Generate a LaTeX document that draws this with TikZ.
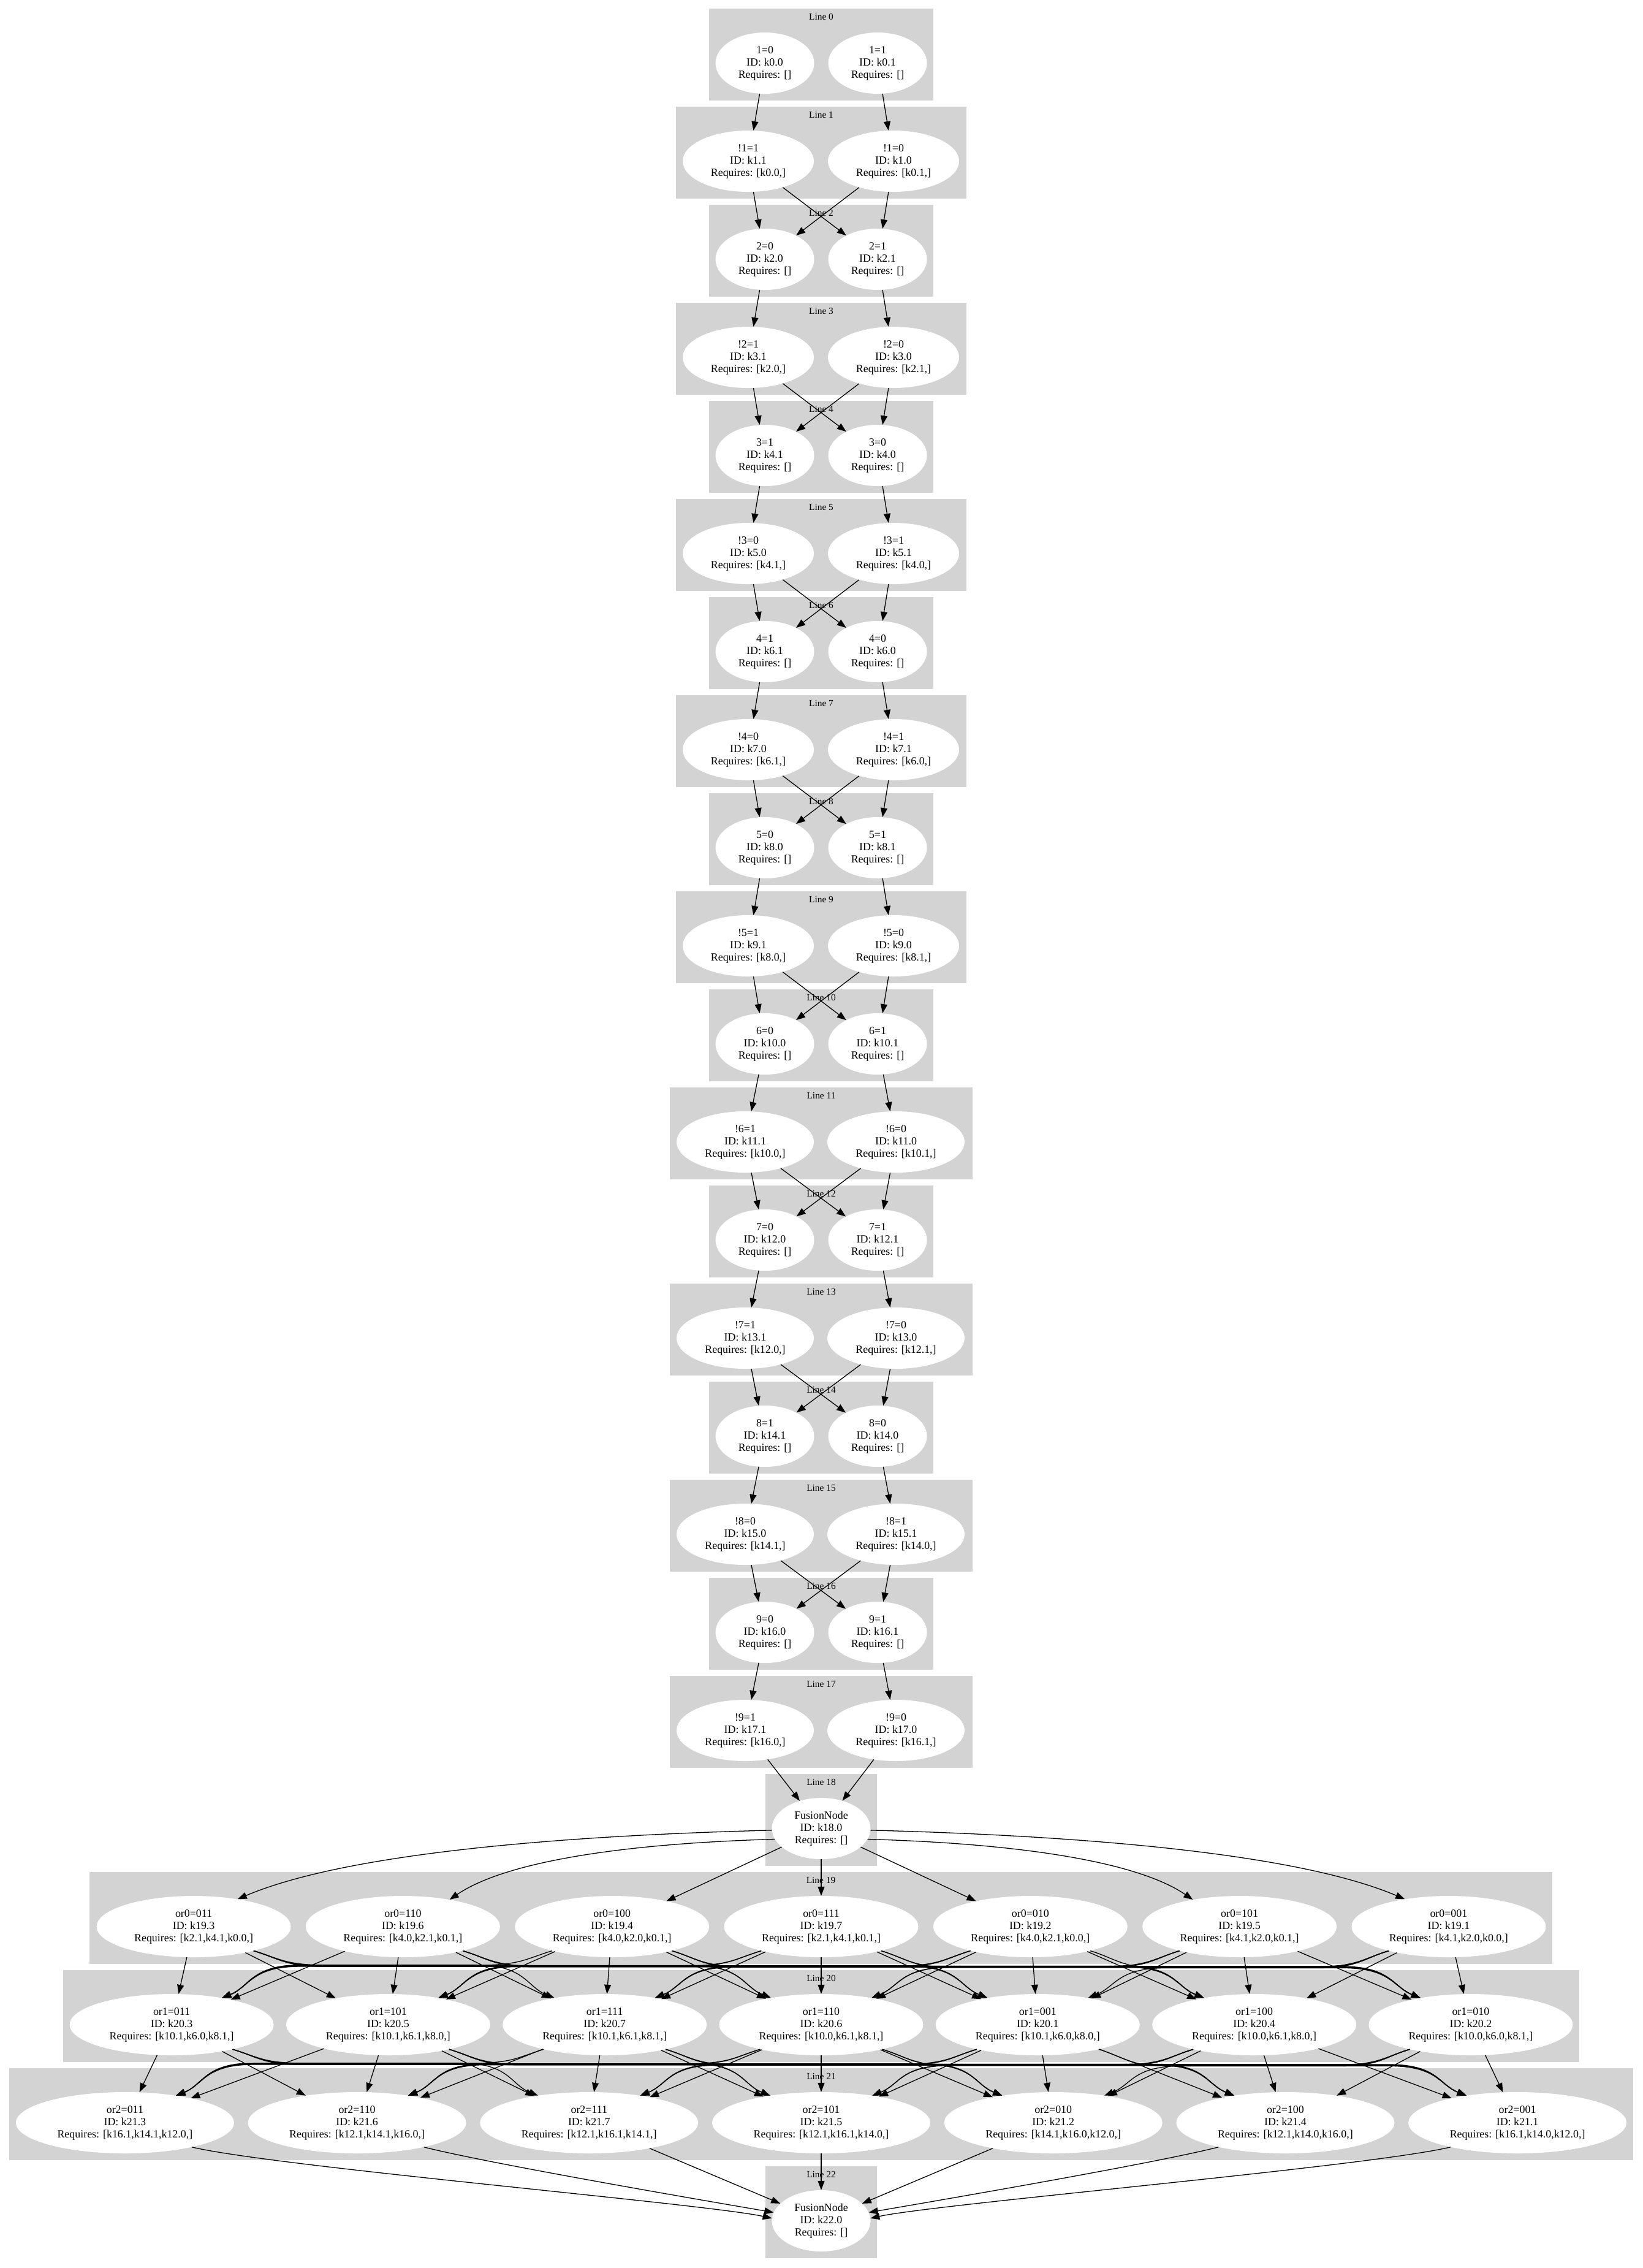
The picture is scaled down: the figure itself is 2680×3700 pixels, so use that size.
\documentclass[tikz,border=0pt]{standalone}
\usepackage{fontspec}
\setmainfont{Liberation Serif}
\usepackage{tikz}
\usetikzlibrary{arrows.meta,shapes.geometric}
\definecolor{bandgray}{HTML}{D3D3D3}
\newcommand{\kfont}{\fontsize{17.9}{20}\selectfont}
\newcommand{\bandfont}{\fontsize{15.4}{18}\selectfont}
\newcommand{\lineband}[3]{%
  \fill[bandgray] (#2,{14+160*#1}) rectangle (#3,{164+160*#1});
  \node[bandlabel] (band#1) at ({(#2+#3)/2},{32+160*#1}) {Line #1};}
\begin{document}
\begin{tikzpicture}[
        x=1pt,y=-1pt,
        kbox/.style={ellipse,fill=white,inner xsep=-50pt,inner ysep=0pt,
                     minimum width=#1,minimum height=100pt,align=center,font=\kfont},
        bandlabel/.style={anchor=base,inner sep=0pt,font=\bandfont},
        wire/.style={line width=1.3pt,-{Triangle[length=15pt,width=11pt]}}
      ]
        \useasboundingbox (0,0) rectangle (2680,3700);
        \foreach \n in {0,2,...,16} {\lineband{\n}{1157}{1523}}
        \foreach \n in {1,3,...,9} {\lineband{\n}{1103}{1577}}
        \foreach \n in {11,13,...,17} {\lineband{\n}{1093}{1587}}
        \lineband{18}{1249}{1431}
        \lineband{19}{146}{2533}
        \lineband{20}{103}{2577}
        \lineband{21}{15}{2665}
        \lineband{22}{1249}{1431}

        \node[kbox=161] (l0) at (1248,103) {1=0\\ID: k0.0\\Requires: []};
        \node[kbox=161] (r0) at (1432,103) {1=1\\ID: k0.1\\Requires: []};
        \node[kbox=214] (l1) at (1221,263) {!1=1\\ID: k1.1\\Requires: [k0.0,]};
        \node[kbox=214] (r1) at (1458,263) {!1=0\\ID: k1.0\\Requires: [k0.1,]};
        \node[kbox=161] (l2) at (1248,423) {2=0\\ID: k2.0\\Requires: []};
        \node[kbox=161] (r2) at (1432,423) {2=1\\ID: k2.1\\Requires: []};
        \node[kbox=214] (l3) at (1221,583) {!2=1\\ID: k3.1\\Requires: [k2.0,]};
        \node[kbox=214] (r3) at (1458,583) {!2=0\\ID: k3.0\\Requires: [k2.1,]};
        \node[kbox=161] (l4) at (1248,743) {3=1\\ID: k4.1\\Requires: []};
        \node[kbox=161] (r4) at (1432,743) {3=0\\ID: k4.0\\Requires: []};
        \node[kbox=214] (l5) at (1221,903) {!3=0\\ID: k5.0\\Requires: [k4.1,]};
        \node[kbox=214] (r5) at (1458,903) {!3=1\\ID: k5.1\\Requires: [k4.0,]};
        \node[kbox=161] (l6) at (1248,1063) {4=1\\ID: k6.1\\Requires: []};
        \node[kbox=161] (r6) at (1432,1063) {4=0\\ID: k6.0\\Requires: []};
        \node[kbox=214] (l7) at (1221,1223) {!4=0\\ID: k7.0\\Requires: [k6.1,]};
        \node[kbox=214] (r7) at (1458,1223) {!4=1\\ID: k7.1\\Requires: [k6.0,]};
        \node[kbox=161] (l8) at (1248,1383) {5=0\\ID: k8.0\\Requires: []};
        \node[kbox=161] (r8) at (1432,1383) {5=1\\ID: k8.1\\Requires: []};
        \node[kbox=214] (l9) at (1221,1543) {!5=1\\ID: k9.1\\Requires: [k8.0,]};
        \node[kbox=214] (r9) at (1458,1543) {!5=0\\ID: k9.0\\Requires: [k8.1,]};
        \node[kbox=161] (l10) at (1248,1703) {6=0\\ID: k10.0\\Requires: []};
        \node[kbox=161] (r10) at (1432,1703) {6=1\\ID: k10.1\\Requires: []};
        \node[kbox=224] (l11) at (1216,1863) {!6=1\\ID: k11.1\\Requires: [k10.0,]};
        \node[kbox=224] (r11) at (1462,1863) {!6=0\\ID: k11.0\\Requires: [k10.1,]};
        \node[kbox=161] (l12) at (1248,2023) {7=0\\ID: k12.0\\Requires: []};
        \node[kbox=161] (r12) at (1432,2023) {7=1\\ID: k12.1\\Requires: []};
        \node[kbox=224] (l13) at (1216,2183) {!7=1\\ID: k13.1\\Requires: [k12.0,]};
        \node[kbox=224] (r13) at (1462,2183) {!7=0\\ID: k13.0\\Requires: [k12.1,]};
        \node[kbox=161] (l14) at (1248,2343) {8=1\\ID: k14.1\\Requires: []};
        \node[kbox=161] (r14) at (1432,2343) {8=0\\ID: k14.0\\Requires: []};
        \node[kbox=224] (l15) at (1216,2503) {!8=0\\ID: k15.0\\Requires: [k14.1,]};
        \node[kbox=224] (r15) at (1462,2503) {!8=1\\ID: k15.1\\Requires: [k14.0,]};
        \node[kbox=161] (l16) at (1248,2663) {9=0\\ID: k16.0\\Requires: []};
        \node[kbox=161] (r16) at (1432,2663) {9=1\\ID: k16.1\\Requires: []};
        \node[kbox=224] (l17) at (1216,2823) {!9=1\\ID: k17.1\\Requires: [k16.0,]};
        \node[kbox=224] (r17) at (1462,2823) {!9=0\\ID: k17.0\\Requires: [k16.1,]};
        \node[kbox=161] (fn18) at (1340,2983) {FusionNode\\ID: k18.0\\Requires: []};

        \node[kbox=317] (ora0) at (316.1,3143) {or0=011\\ID: k19.3\\Requires: [k2.1,k4.1,k0.0,]};
        \node[kbox=317] (ora1) at (657.4,3143) {or0=110\\ID: k19.6\\Requires: [k4.0,k2.1,k0.1,]};
        \node[kbox=317] (ora2) at (998.7,3143) {or0=100\\ID: k19.4\\Requires: [k4.0,k2.0,k0.1,]};
        \node[kbox=317] (ora3) at (1340,3143) {or0=111\\ID: k19.7\\Requires: [k2.1,k4.1,k0.1,]};
        \node[kbox=317] (ora4) at (1681.3,3143) {or0=010\\ID: k19.2\\Requires: [k4.0,k2.1,k0.0,]};
        \node[kbox=317] (ora5) at (2022.6,3143) {or0=101\\ID: k19.5\\Requires: [k4.1,k2.0,k0.1,]};
        \node[kbox=317] (ora6) at (2363.9,3143) {or0=001\\ID: k19.1\\Requires: [k4.1,k2.0,k0.0,]};

        \node[kbox=333] (orb0) at (280.1,3303) {or1=011\\ID: k20.3\\Requires: [k10.1,k6.0,k8.1,]};
        \node[kbox=333] (orb1) at (633.4,3303) {or1=101\\ID: k20.5\\Requires: [k10.1,k6.1,k8.0,]};
        \node[kbox=333] (orb2) at (986.7,3303) {or1=111\\ID: k20.7\\Requires: [k10.1,k6.1,k8.1,]};
        \node[kbox=333] (orb3) at (1340,3303) {or1=110\\ID: k20.6\\Requires: [k10.0,k6.1,k8.1,]};
        \node[kbox=333] (orb4) at (1693.3,3303) {or1=001\\ID: k20.1\\Requires: [k10.1,k6.0,k8.0,]};
        \node[kbox=333] (orb5) at (2046.6,3303) {or1=100\\ID: k20.4\\Requires: [k10.0,k6.1,k8.0,]};
        \node[kbox=333] (orb6) at (2399.9,3303) {or1=010\\ID: k20.2\\Requires: [k10.0,k6.0,k8.1,]};

        \node[kbox=356] (orc0) at (203.9,3463) {or2=011\\ID: k21.3\\Requires: [k16.1,k14.1,k12.0,]};
        \node[kbox=356] (orc1) at (582.6,3463) {or2=110\\ID: k21.6\\Requires: [k12.1,k14.1,k16.0,]};
        \node[kbox=356] (orc2) at (961.3,3463) {or2=111\\ID: k21.7\\Requires: [k12.1,k16.1,k14.1,]};
        \node[kbox=356] (orc3) at (1340,3463) {or2=101\\ID: k21.5\\Requires: [k12.1,k16.1,k14.0,]};
        \node[kbox=356] (orc4) at (1718.7,3463) {or2=010\\ID: k21.2\\Requires: [k14.1,k16.0,k12.0,]};
        \node[kbox=356] (orc5) at (2097.4,3463) {or2=100\\ID: k21.4\\Requires: [k12.1,k14.0,k16.0,]};
        \node[kbox=356] (orc6) at (2476.1,3463) {or2=001\\ID: k21.1\\Requires: [k16.1,k14.0,k12.0,]};

        \node[kbox=161] (fn22) at (1340,3623) {FusionNode\\ID: k22.0\\Requires: []};

        \foreach \n [evaluate=\n as \m using int(\n+1)] in {0,2,...,16} {
          \draw[wire] (l\n) -- (l\m);
          \draw[wire] (r\n) -- (r\m);
        }
        \foreach \n [evaluate=\n as \m using int(\n+1)] in {1,3,...,15} {
          \draw[wire] (l\n) -- (l\m);
          \draw[wire] (l\n) -- (r\m);
          \draw[wire] (r\n) -- (l\m);
          \draw[wire] (r\n) -- (r\m);
        }
        \draw[wire] (l17) -- (fn18);
        \draw[wire] (r17) -- (fn18);

        \draw[wire] (fn18) -- (ora3);
        \draw[wire] (fn18) -- (ora2);
        \draw[wire] (fn18) -- (ora4);
        \draw[wire] (fn18.182) .. controls (900,2995) and (560,3025) .. (ora0.32);
        \draw[wire] (fn18.193) .. controls (1000,3008) and (820,3040) .. (ora1.30);
        \draw[wire] (fn18.-2) .. controls (1780,2995) and (2120,3025) .. (ora6.148);
        \draw[wire] (fn18.-13) .. controls (1680,3008) and (1860,3040) .. (ora5.150);

        \foreach \src/\dst/\da/\db/\cy in {ora/orb/341.3/353.3/3208,orb/orc/353.3/378.7/3368} {
          \foreach \i in {0,...,6} {
            \foreach \j in {0,...,6} {
              \pgfmathtruncatemacro\ad{abs(\j-\i)}
              \pgfmathtruncatemacro\sg{sign(\j-\i)}
              \ifnum\ad<2
                \draw[wire] (\src\i) -- (\dst\j);
              \else
                \pgfmathsetmacro\sx{1340+\da*(\i-3)}
                \pgfmathsetmacro\tx{1340+\db*(\j-3)}
                \pgfmathsetmacro\yy{\cy+0.6*(\i+\j-6)}
                \pgfmathtruncatemacro\dep{-90+68*\sg}
                \pgfmathtruncatemacro\arr{90+62*\sg}
                \draw[wire] (\src\i.\dep) .. controls +({40*(\sg)},12) and ({\sx+150*(\sg)},\yy)
                  .. ({\sx+210*(\sg)},\yy) -- ({\tx-210*(\sg)},\yy)
                  .. controls ({\tx-130*(\sg)},\yy) and +({-45*(\sg)},-18) .. (\dst\j.\arr);
              \fi
            }
          }
        }

        \draw[wire] (orc3) -- (fn22);
        \draw[wire] (orc2) -- (fn22);
        \draw[wire] (orc4) -- (fn22);
        \draw[wire] (orc0.-20) .. controls (450,3535) and (1150,3595) .. (fn22.177);
        \draw[wire] (orc1.-20) .. controls (800,3530) and (1150,3590) .. (fn22.170);
        \draw[wire] (orc6.-160) .. controls (2230,3535) and (1530,3595) .. (fn22.3);
        \draw[wire] (orc5.-160) .. controls (1880,3530) and (1530,3590) .. (fn22.10);
      \end{tikzpicture}
\end{document}
